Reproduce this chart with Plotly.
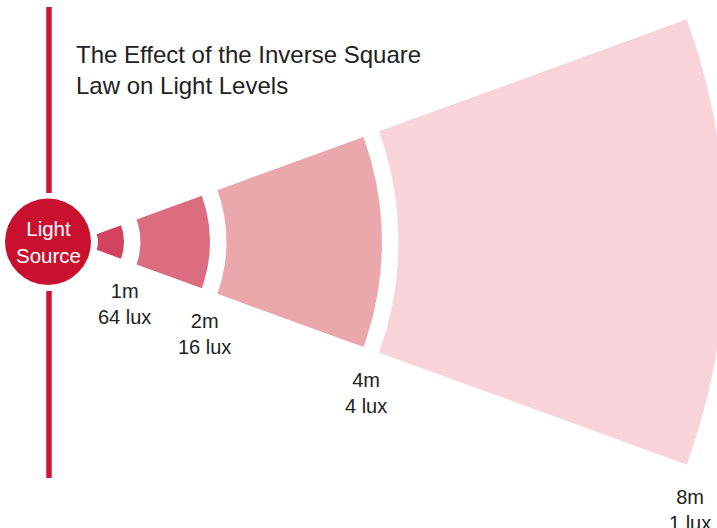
import numpy as np
import plotly.graph_objects as go

# ---- data ----
distances_m = [1, 2, 4, 8]
lux_levels = [64, 16, 4, 1]
ring_colors = ["#d3425f", "#dc6c80", "#eaa8ad", "#f8d4da"]
title_text = "The Effect of the Inverse Square<br>Law on Light Levels"
source_text = "Light<br>Source"

# ---- layout constants (page pixel space) ----
W, H = 717, 528
apex_x, apex_y = 75, 242
half_angle = np.deg2rad(20)
px_per_m = 86
r_offset = -37
gap = 16.5
first_inner = 23
FONT = "Liberation Sans, Arial, sans-serif"

fig = go.Figure()

outer = [px_per_m * d + r_offset for d in distances_m]
inner = [first_inner] + [o + gap for o in outer[:-1]]

th = np.linspace(-half_angle, half_angle, 160)
for d, lx, ri, ro, col in zip(distances_m, lux_levels, inner, outer, ring_colors):
    xs = np.concatenate([apex_x + ro * np.cos(th), apex_x + ri * np.cos(th[::-1])])
    ys = np.concatenate([apex_y + ro * np.sin(th), apex_y + ri * np.sin(th[::-1])])
    fig.add_trace(go.Scatter(x=xs, y=ys, fill="toself", fillcolor=col, mode="lines",
                             line=dict(width=0, color=col), hoverinfo="skip", showlegend=False))
    fig.add_annotation(x=apex_x + ro * np.cos(half_angle) + 3,
                       y=apex_y + ro * np.sin(half_angle) + 45.5,
                       text=f"{d}m<br>{lx} lux", showarrow=False,
                       xanchor="center", yanchor="middle",
                       font=dict(family=FONT, size=20, color="#222222"))

# vertical line and circle
line_col = "#cc1336"
fig.add_shape(type="line", x0=49, x1=49, y0=7, y1=193, line=dict(color=line_col, width=5.5))
fig.add_shape(type="line", x0=49, x1=49, y0=291, y1=478, line=dict(color=line_col, width=5.5))
fig.add_shape(type="circle", x0=5, x1=91, y0=198.5, y1=285, fillcolor="#c9112f", line=dict(width=0))

fig.add_annotation(x=48, y=242, text=source_text, showarrow=False, xanchor="center", yanchor="middle",
                   font=dict(family=FONT, size=20.5, color="white"))

fig.add_annotation(x=74, y=70, text=title_text, showarrow=False, xanchor="left", yanchor="middle",
                   align="left",
                   font=dict(family=FONT, size=24, color="#222222"))

fig.update_layout(width=W, height=H, margin=dict(l=0, r=0, t=0, b=0),
                  paper_bgcolor="white", plot_bgcolor="white",
                  xaxis=dict(range=[0, W], visible=False, fixedrange=True),
                  yaxis=dict(range=[H, 0], visible=False, fixedrange=True))

fig.write_html("out.html", config={"displayModeBar": False},
               post_script="document.body.style.margin='0';document.body.style.overflow='hidden';")
